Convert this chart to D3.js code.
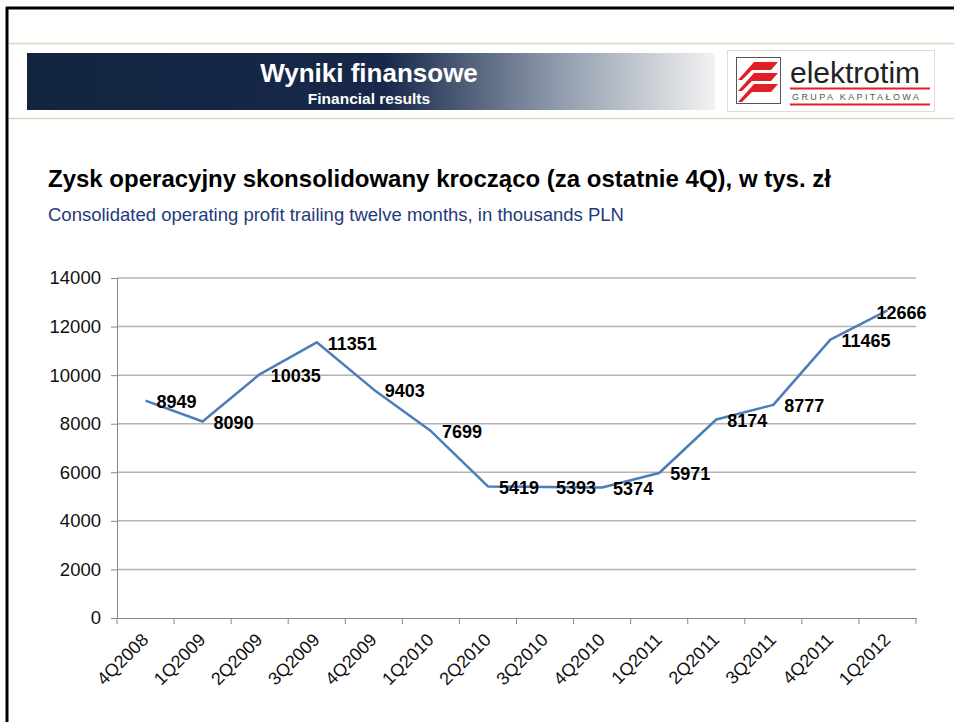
<!DOCTYPE html>
<html>
<head>
<meta charset="utf-8">
<script src="https://cdn.jsdelivr.net/npm/d3@7"></script>
<style>
  body { margin: 0; background: #fff; }
  text { font-family: "Liberation Sans", Arial, sans-serif; }
</style>
</head>
<body>
<div id="chart"></div>
<script>
var quarters = ["4Q2008", "1Q2009", "2Q2009", "3Q2009", "4Q2009", "1Q2010", "2Q2010",
                "3Q2010", "4Q2010", "1Q2011", "2Q2011", "3Q2011", "4Q2011", "1Q2012"];
var profit = [8949, 8090, 10035, 11351, 9403, 7699, 5419, 5393, 5374, 5971, 8174, 8777, 11465, 12666];
var yTicks = [0, 2000, 4000, 6000, 8000, 10000, 12000, 14000];

var svgWidth = 954;
var svgHeight = 722;

var svg = d3.select("#chart")
  .append("svg")
  .attr("width", svgWidth)
  .attr("height", svgHeight);

// slide frame
svg.append("rect").attr("x", 0).attr("y", 0).attr("width", svgWidth).attr("height", svgHeight).attr("fill", "#fff");
svg.append("line").attr("x1", 6).attr("x2", svgWidth).attr("y1", 8).attr("y2", 8)
  .attr("stroke", "#000").attr("stroke-width", 3);
svg.append("line").attr("x1", 7).attr("x2", 7).attr("y1", 7).attr("y2", svgHeight)
  .attr("stroke", "#000").attr("stroke-width", 3);

// header
svg.append("line").attr("x1", 9).attr("x2", svgWidth).attr("y1", 43.5).attr("y2", 43.5)
  .attr("stroke", "#dcd8c0").attr("stroke-width", 1.5);
svg.append("line").attr("x1", 9).attr("x2", svgWidth).attr("y1", 118.5).attr("y2", 118.5)
  .attr("stroke", "#dcd8c0").attr("stroke-width", 1.5);

var defs = svg.append("defs");
var grad = defs.append("linearGradient").attr("id", "banner");
grad.append("stop").attr("offset", "0%").attr("stop-color", "#13243f");
grad.append("stop").attr("offset", "52%").attr("stop-color", "#17284a");
grad.append("stop").attr("offset", "76%").attr("stop-color", "#8a96a8");
grad.append("stop").attr("offset", "100%").attr("stop-color", "#f2f2f2");

svg.append("rect").attr("x", 27).attr("y", 53).attr("width", 688).attr("height", 57)
  .attr("fill", "url(#banner)");
svg.append("text").attr("x", 369).attr("y", 82).attr("text-anchor", "middle")
  .attr("fill", "#fff").attr("font-weight", "bold").attr("font-size", "26px")
  .text("Wyniki finansowe");
svg.append("text").attr("x", 369).attr("y", 104).attr("text-anchor", "middle")
  .attr("fill", "#fff").attr("font-weight", "bold").attr("font-size", "15.5px")
  .text("Financial results");

// logo
var logo = svg.append("g");
logo.append("rect").attr("x", 727.5).attr("y", 50.5).attr("width", 207).attr("height", 61)
  .attr("fill", "#fff").attr("stroke", "#e0ddd0");
logo.append("rect").attr("x", 736.5).attr("y", 57.5).attr("width", 44).attr("height", 46)
  .attr("fill", "#fff").attr("stroke", "#555");
[0, 1, 2].forEach(function(i) {
  var y0 = 66 + i * 11;
  logo.append("path")
    .attr("d", "M738," + (y0 + 14) + " L754," + (y0 - 4) + " L778," + (y0 - 4) +
               " L771," + (y0 + 4) + " L752," + (y0 + 4) + " L742," + (y0 + 14) + "Z")
    .attr("fill", "#e02026");
});
logo.append("text").attr("x", 790).attr("y", 83).attr("font-size", "30px")
  .attr("fill", "#222").text("elektrotim");
logo.append("line").attr("x1", 790).attr("x2", 930).attr("y1", 88.5).attr("y2", 88.5)
  .attr("stroke", "#e02026").attr("stroke-width", 2);
logo.append("text").attr("x", 792).attr("y", 100).attr("font-size", "9px")
  .attr("letter-spacing", "2.4px").attr("fill", "#555").text("GRUPA KAPITAŁOWA");
logo.append("line").attr("x1", 790).attr("x2", 930).attr("y1", 104.5).attr("y2", 104.5)
  .attr("stroke", "#e02026").attr("stroke-width", 2);

// titles
svg.append("text").attr("x", 48).attr("y", 187).attr("font-weight", "bold")
  .attr("font-size", "24px").attr("fill", "#000")
  .text("Zysk operacyjny skonsolidowany krocząco (za ostatnie 4Q), w tys. zł");
svg.append("text").attr("x", 48).attr("y", 221).attr("font-size", "18.5px")
  .attr("fill", "#1f3a7c")
  .text("Consolidated operating profit trailing twelve months, in thousands PLN");

// chart
var xScale = d3.scaleBand().domain(quarters).range([117, 916]).padding(0);
var yScale = d3.scaleLinear().domain([0, 14000]).range([618, 278]);

svg.append("g")
  .selectAll("line")
  .data(yTicks.filter(function(d) { return d > 0; }))
  .enter()
  .append("line")
  .attr("x1", 117).attr("x2", 916)
  .attr("y1", function(d) { return yScale(d); })
  .attr("y2", function(d) { return yScale(d); })
  .attr("stroke", "#b4b4b4").attr("stroke-width", 1.5);

var leftAxis = d3.axisLeft(yScale).tickValues(yTicks).tickSize(6).tickPadding(10)
  .tickFormat(d3.format("d"));
var yAxisG = svg.append("g").attr("transform", "translate(117,0)").call(leftAxis);
yAxisG.select(".domain").attr("stroke", "#888");
yAxisG.selectAll(".tick line").attr("stroke", "#888");
yAxisG.selectAll(".tick text").attr("font-size", "18.5px").attr("fill", "#111")
  .attr("font-family", "Liberation Sans, Arial, sans-serif");

var bottomAxis = d3.axisBottom(xScale).tickSize(6).tickSizeOuter(0).tickFormat("");
var xAxisG = svg.append("g").attr("transform", "translate(0,618)").call(bottomAxis);
xAxisG.select(".domain").attr("stroke", "#888");
xAxisG.selectAll(".tick").remove();
// ticks at band boundaries
xAxisG.selectAll("line.bt")
  .data(quarters.concat(["end"]))
  .enter()
  .append("line")
  .attr("class", "bt")
  .attr("x1", function(d, i) { return i < quarters.length ? xScale(d) : xScale.range()[1]; })
  .attr("x2", function(d, i) { return i < quarters.length ? xScale(d) : xScale.range()[1]; })
  .attr("y1", 0).attr("y2", 6)
  .attr("stroke", "#888");

svg.append("g")
  .selectAll("text")
  .data(quarters)
  .enter()
  .append("text")
  .attr("transform", function(d) {
    var x = xScale(d) + xScale.bandwidth() / 2 + 4;
    return "translate(" + x + ",641) rotate(-45)";
  })
  .attr("text-anchor", "end")
  .attr("font-size", "18px")
  .attr("fill", "#111")
  .text(function(d) { return d; });

var line = d3.line()
  .x(function(d, i) { return xScale(quarters[i]) + xScale.bandwidth() / 2; })
  .y(function(d) { return yScale(d); });

svg.append("path")
  .datum(profit)
  .attr("d", line)
  .attr("fill", "none")
  .attr("stroke", "#4a7ebb")
  .attr("stroke-width", 2.5)
  .attr("stroke-linejoin", "round");

svg.append("g")
  .selectAll("text")
  .data(profit)
  .enter()
  .append("text")
  .attr("x", function(d, i) {
    var cx = xScale(quarters[i]) + xScale.bandwidth() / 2;
    return i === profit.length - 1 ? cx - 11 : cx + 11;
  })
  .attr("y", function(d, i) { return yScale(d) + (i === profit.length - 1 ? 2 : 1); })
  .attr("dy", "0.35em")
  .attr("font-size", "18px")
  .attr("font-weight", "bold")
  .attr("fill", "#000")
  .text(function(d) { return d; });
</script>
</body>
</html>
